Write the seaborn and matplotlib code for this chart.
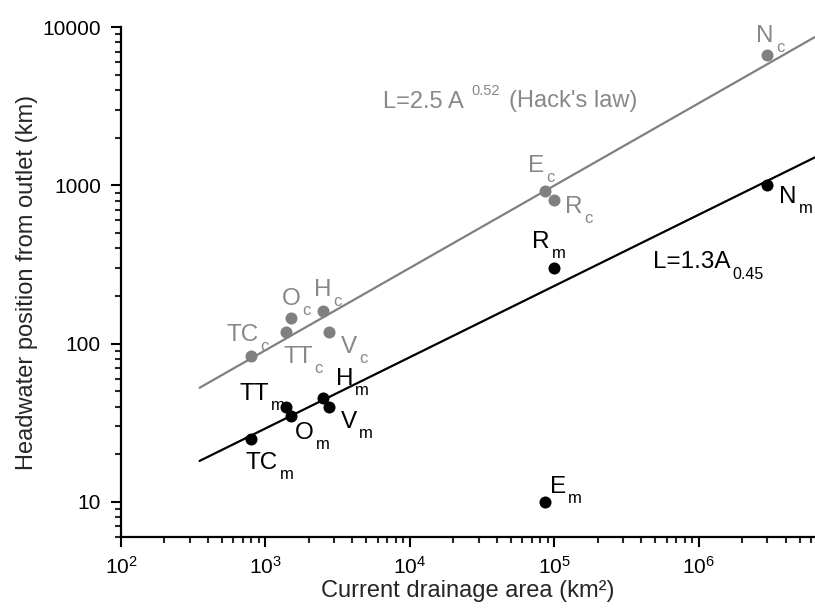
import matplotlib
matplotlib.use("Agg")
import matplotlib.pyplot as plt
import seaborn as sns
import numpy as np
import pandas as pd
from matplotlib.ticker import LogLocator, FixedLocator, FixedFormatter, NullFormatter

# ---------------- data ----------------
names = ["TC", "TT", "O", "H", "V", "E", "R", "N"]
area = [800, 1390, 1500, 2500, 2750, 86000, 100000, 3000000]
length_c = [84, 119, 145, 160, 119, 920, 805, 6650]
length_m = [25, 40, 35, 45, 40, 10, 300, 1000]

# fitted laws (coefficient, exponent) and their drawn range of A
hack_coef, hack_exp = 2.5, 0.52
m_coef, m_exp = 1.3, 0.45
fit_range = [350, 6.4e6]

y_ticks = [10, 100, 1000, 10000]
y_ticklabels = ["10", "100", "1000", "10000"]

# label offsets (pixels) of each point label from its point
off_c = {"TC": (-25, 15), "TT": (-3, -31), "O": (-9, 13), "H": (-9, 15),
         "V": (12, -21), "E": (-17, 19), "R": (11, -13), "N": (-11, 13)}
off_m = {"TC": (-6, -30), "TT": (-47, 7), "O": (4, -23), "H": (13, 13),
         "V": (12, -21), "E": (5, 9), "R": (-22, 20), "N": (12, -18)}

GRAY = "#808080"
TGRAY = "#888888"

# ---------------- style ----------------
sns.set_theme(style="ticks")
plt.rcParams["font.family"] = ["Liberation Sans", "DejaVu Sans"]
plt.rcParams["mathtext.fontset"] = "custom"
plt.rcParams["mathtext.rm"] = "Liberation Sans"
plt.rcParams["mathtext.default"] = "regular"

fig = plt.figure(figsize=(8.15, 6.14), dpi=100)
ax = fig.add_axes([0.1485, 0.1254, 0.8515, 0.8306])

df = pd.DataFrame({"name": names, "A": area, "Lc": length_c, "Lm": length_m})

# fit lines
A_fit = np.array(fit_range)
fit_df = pd.DataFrame({
    "A": np.concatenate([A_fit, A_fit]),
    "L": np.concatenate([hack_coef * A_fit ** hack_exp, m_coef * A_fit ** m_exp]),
    "law": ["hack"] * 2 + ["m"] * 2,
})
sns.lineplot(data=fit_df[fit_df.law == "hack"], x="A", y="L", color=GRAY,
             linewidth=1.6, ax=ax, legend=False)
sns.lineplot(data=fit_df[fit_df.law == "m"], x="A", y="L", color="black",
             linewidth=1.6, ax=ax, legend=False)

sns.scatterplot(data=df, x="A", y="Lc", color=GRAY, s=75, linewidth=0, ax=ax, zorder=3)
sns.scatterplot(data=df, x="A", y="Lm", color="black", s=75, linewidth=0, ax=ax, zorder=3)

ax.set_xscale("log")
ax.set_yscale("log")
ax.set_xlim(100, 6.4e6)
ax.set_ylim(6, 10000)

ax.xaxis.set_major_locator(LogLocator(base=10, numticks=10))
ax.xaxis.set_minor_locator(LogLocator(base=10, subs=np.arange(2, 10), numticks=100))
ax.xaxis.set_minor_formatter(NullFormatter())
ax.yaxis.set_major_locator(FixedLocator(y_ticks))
ax.yaxis.set_major_formatter(FixedFormatter(y_ticklabels))
ax.yaxis.set_minor_locator(LogLocator(base=10, subs=np.arange(2, 10), numticks=100))
ax.yaxis.set_minor_formatter(NullFormatter())

ax.tick_params(which="major", direction="out", length=7.5, width=1.5, labelsize=15,
               colors="black")
ax.tick_params(which="minor", direction="out", length=4.5, width=1.5)
ax.tick_params(axis="y", which="major", pad=7)
ax.tick_params(axis="x", which="major", pad=6)
for s in ["top", "right"]:
    ax.spines[s].set_visible(False)
for s in ["left", "bottom"]:
    ax.spines[s].set_linewidth(1.6)
    ax.spines[s].set_color("black")

ax.set_xlabel("Current drainage area (km²)", fontsize=17, labelpad=2)
ax.set_ylabel("Headwater position from outlet (km)", fontsize=17, labelpad=3)


def label(x, y, main, sub, off, color):
    t = ax.annotate(main, xy=(x, y), xytext=off, textcoords="offset pixels",
                    fontsize=17.5, color=color, ha="left", va="baseline")
    ax.annotate(sub, xy=(1, 0), xycoords=t, xytext=(2, -5),
                textcoords="offset pixels", fontsize=12, color=color,
                ha="left", va="baseline")


for n, a, lc, lm in zip(names, area, length_c, length_m):
    label(a, lc, n, "c", off_c[n], TGRAY)
    label(a, lm, n, "m", off_m[n], "black")

# law annotations
t1 = ax.text(6500, 3070, "L=2.5 A", fontsize=17, color=TGRAY, ha="left", va="baseline")
t2 = ax.annotate(f"{hack_exp:.2f}", xy=(1, 0), xycoords=t1, xytext=(8, 18),
                 textcoords="offset pixels", fontsize=10.5, color=TGRAY,
                 ha="left", va="baseline")
ax.annotate("(Hack's law)", xy=(1, 0), xycoords=t2, xytext=(9, -9),
            textcoords="offset pixels", fontsize=17, color=TGRAY,
            ha="left", va="baseline")

t3 = ax.text(4.8e5, 299, "L=1.3A", fontsize=17.5, color="black", ha="left", va="baseline")
ax.annotate(f"{m_exp:.2f}", xy=(1, 0), xycoords=t3, xytext=(2, -6),
            textcoords="offset pixels", fontsize=11.5, color="black",
            ha="left", va="baseline")

fig.savefig("out.png", dpi=100)
